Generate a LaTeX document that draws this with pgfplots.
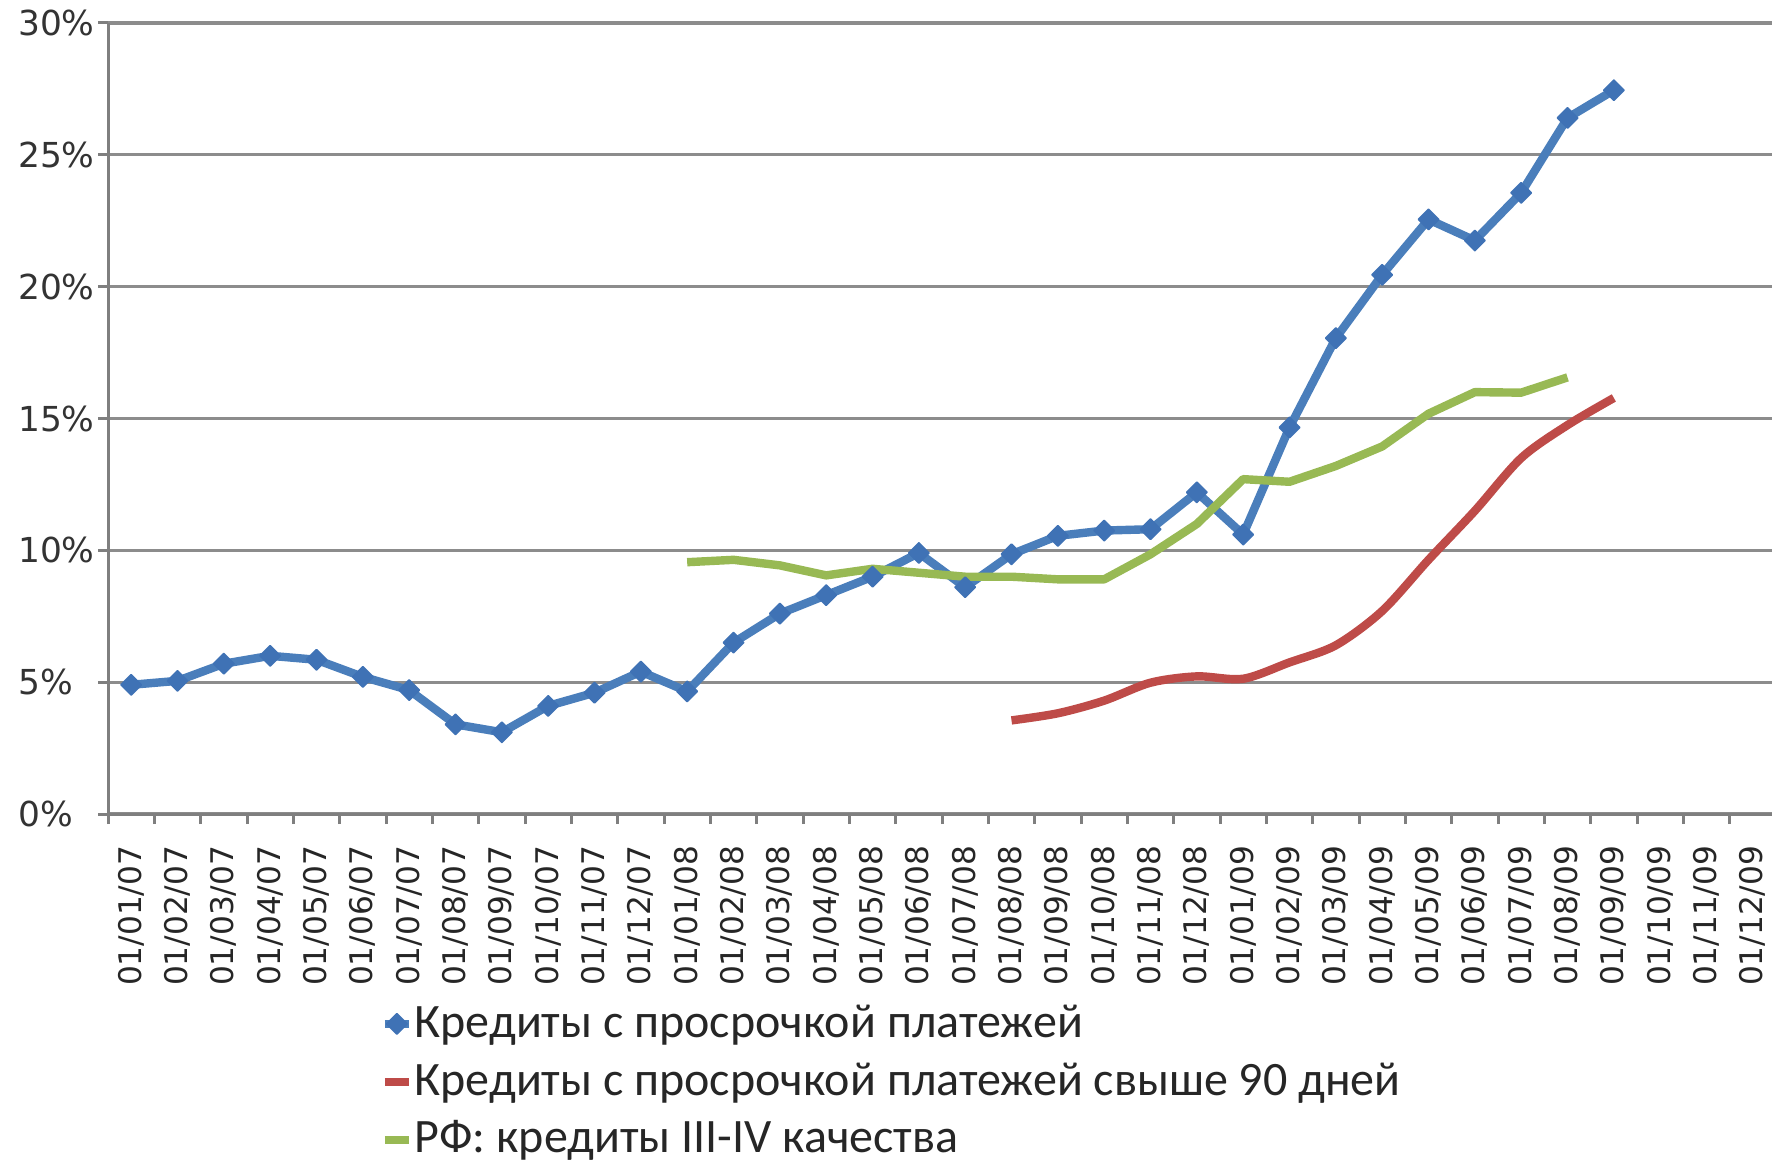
\documentclass[border=0pt]{standalone}
\usepackage{fontspec}
\setmainfont{DejaVu Sans}
\newfontfamily\legfont{Carlito}
\usepackage{pgfplots}
\pgfplotsset{compat=1.18}
\definecolor{cblue}{HTML}{4A7EBB}
\definecolor{cbluem}{HTML}{3F72B5}
\definecolor{cred}{HTML}{BE4B48}
\definecolor{cgreen}{HTML}{98B954}
\definecolor{cgrid}{HTML}{8C8C8C}
\definecolor{caxis}{HTML}{7F7F7F}
\begin{document}
\begin{tikzpicture}
\begin{axis}[
  at={(27pt,88.25pt)}, anchor=south west,
  scale only axis, width=417pt, height=197.75pt,
  xmin=-0.5, xmax=35.5, ymin=0, ymax=30,
  axis x line*=bottom, axis y line*=left,
  axis line style={caxis, line width=0.75pt},
  tick align=outside,
  major tick length=2.5pt,
  ytick={0,5,...,30},
  yticklabels={0\%,5\%,10\%,15\%,20\%,25\%,30\%},
  yticklabel style={anchor=west, inner sep=0pt, xshift=-20.15pt, font=\fontsize{8.6}{10}\selectfont, text=black!80},
  ytick style={draw=caxis, line width=0.75pt},
  ymajorgrids, grid style={cgrid, line width=0.8pt},
  xtick={0,...,35},
  xtick style={draw=none},
  xticklabels={01/01/07,01/02/07,01/03/07,01/04/07,01/05/07,01/06/07,01/07/07,01/08/07,01/09/07,01/10/07,01/11/07,01/12/07,
               01/01/08,01/02/08,01/03/08,01/04/08,01/05/08,01/06/08,01/07/08,01/08/08,01/09/08,01/10/08,01/11/08,01/12/08,
               01/01/09,01/02/09,01/03/09,01/04/09,01/05/09,01/06/09,01/07/09,01/08/09,01/09/09,01/10/09,01/11/09,01/12/09},
  xticklabel shift=5.25pt,
  xticklabel style={rotate=90, anchor=east, inner sep=0pt, font=\fontsize{7.8}{9}\selectfont, text=black!85},
  extra x ticks={-0.5,0.5,...,35.5},
  extra x tick labels={},
  extra x tick style={xtick style={draw=caxis, line width=0.75pt}, grid=none},
  legend style={at={(axis description cs:0.163,-0.238)}, anchor=north west,
    draw=none, fill=none, inner sep=0pt, row sep=4.1pt,
    font=\legfont\fontsize{12}{13.5}\selectfont,
    nodes={inner sep=0.4pt, text=black!85}},
  legend cell align=left,
  legend image code/.code={\draw[mark repeat=2,mark phase=2,#1] plot coordinates {(0pt,0pt) (3pt,0pt) (6pt,0pt)};},
]
\addplot[cblue, line width=2.1pt, line join=round, mark=square*, mark size=1.8pt,
  mark options={rotate=45, fill=cbluem, draw=cbluem, line width=0.4pt}] coordinates {
(0,4.9) (1,5.05) (2,5.7) (3,6.0) (4,5.85) (5,5.2) (6,4.7) (7,3.4) (8,3.1) (9,4.1) (10,4.6) (11,5.4)
(12,4.65) (13,6.5) (14,7.6) (15,8.3) (16,9.0) (17,9.9) (18,8.6) (19,9.85) (20,10.55) (21,10.75) (22,10.8) (23,12.2)
(24,10.6) (25,14.66) (26,18.05) (27,20.45) (28,22.55) (29,21.75) (30,23.56) (31,26.4) (32,27.45)};
\addlegendentry{Кредиты с просрочкой платежей}
\addplot[cred, line width=2.1pt, line join=round, smooth, tension=0.5, no marks] coordinates {
(19,3.55) (20,3.82) (21,4.3) (22,4.98) (23,5.22) (24,5.13) (25,5.75) (26,6.4) (27,7.7) (28,9.64) (29,11.5) (30,13.5) (31,14.75) (32,15.78)};
\addlegendentry{Кредиты с просрочкой платежей свыше 90 дней}
\addplot[cgreen, line width=2.1pt, line join=round, no marks] coordinates {
(12,9.55) (13,9.64) (14,9.43) (15,9.05) (16,9.3) (17,9.15) (18,9.0) (19,9.0) (20,8.9) (21,8.9) (22,9.85) (23,11.0)
(24,12.7) (25,12.6) (26,13.2) (27,13.94) (28,15.18) (29,16.0) (30,15.98) (31,16.56)};
\addlegendentry{РФ: кредиты III-IV качества}
\end{axis}
\pgfresetboundingbox
\path[use as bounding box] (0,0) rectangle (443pt,291.75pt);
\end{tikzpicture}
\end{document}
